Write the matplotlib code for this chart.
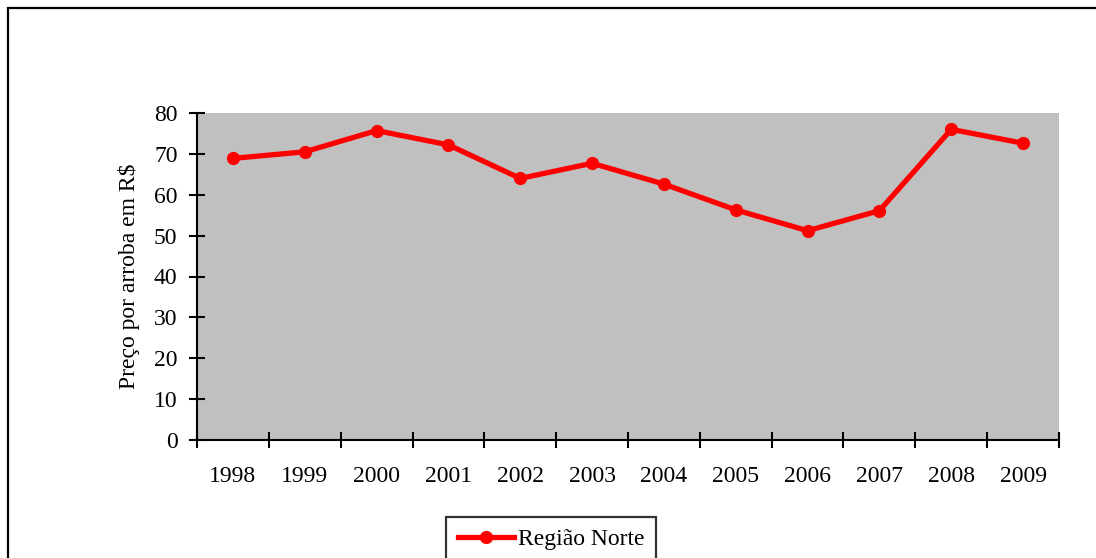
import matplotlib
matplotlib.use("Agg")
import matplotlib.pyplot as plt
from matplotlib.patches import Rectangle
from matplotlib.lines import Line2D

years = ["1998", "1999", "2000", "2001", "2002", "2003", "2004", "2005", "2006", "2007", "2008", "2009"]
prices = [68.9, 70.5, 75.7, 72.2, 64.0, 67.7, 62.6, 56.3, 51.2, 56.1, 76.0, 72.6]
series_name = "Região Norte"
y_label = "Preço por arroba em R$"
y_ticks = [0, 10, 20, 30, 40, 50, 60, 70, 80]

plt.rcParams['font.family'] = ['Liberation Serif', 'DejaVu Serif']

W, H = 1096, 558
fig = plt.figure(figsize=(W / 100, H / 100), dpi=100)

# outer border (chart area frame)
fig.patches.append(Rectangle((8 / W, -0.1), 1.2, 1 - 8 / H + 0.1, transform=fig.transFigure,
                             fill=False, edgecolor='black', linewidth=1.6))

ax = fig.add_axes([197 / W, 1 - 440 / H, (1059 - 197) / W, (440 - 113) / H])
ax.set_facecolor('#c0c0c0')

x = list(range(len(years)))
ax.plot(x, prices, color='#ff0000', linewidth=3.8, marker='o', markersize=8.5,
        solid_joinstyle='round')

ax.set_xlim(-0.5, len(years) - 0.5)
ax.set_ylim(0, 80)
ax.set_yticks(y_ticks)
ax.set_yticklabels([str(v) for v in y_ticks])

ax.set_xticks([i - 0.5 for i in range(len(years) + 1)])
ax.set_xticklabels([])
ax.set_xticks(x, minor=True)
ax.set_xticklabels(years, minor=True)
ax.tick_params(axis='x', which='minor', length=0, pad=19, labelsize=17)
ax.tick_params(axis='x', which='major', direction='inout', length=11, width=1.5)
ax.tick_params(axis='y', direction='inout', length=12, width=1.5, pad=8, labelsize=17)

for s in ['top', 'right']:
    ax.spines[s].set_visible(False)
for s in ['left', 'bottom']:
    ax.spines[s].set_linewidth(1.5)

ax.set_ylabel(y_label, fontsize=17, labelpad=10)

handle = Line2D([], [], color='#ff0000', linewidth=3.8, marker='o', markersize=8.5)
leg = fig.legend([handle], [series_name], loc='upper left',
                 bbox_to_anchor=(446 / W, 1 - 517 / H), fontsize=17,
                 frameon=True, fancybox=False, edgecolor='black',
                 handlelength=2.4, handletextpad=0.15, borderpad=0.5,
                 borderaxespad=0)
leg.get_frame().set_linewidth(1.6)

fig.savefig("out.png", dpi=100)
